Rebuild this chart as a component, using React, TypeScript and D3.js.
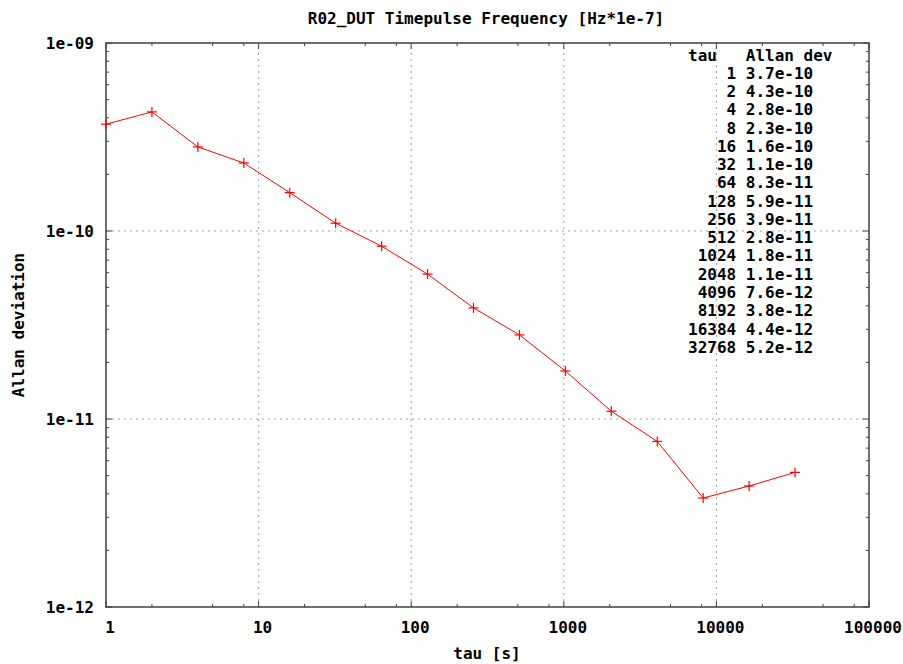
import React from "react";
import * as d3 from "d3";

const taus = [1, 2, 4, 8, 16, 32, 64, 128, 256, 512, 1024, 2048, 4096, 8192, 16384, 32768];
const adev = [3.7e-10, 4.3e-10, 2.8e-10, 2.3e-10, 1.6e-10, 1.1e-10, 8.3e-11, 5.9e-11, 3.9e-11, 2.8e-11, 1.8e-11, 1.1e-11, 7.6e-12, 3.8e-12, 4.4e-12, 5.2e-12];
const xTickValues = [1, 10, 100, 1000, 10000, 100000];
const xTickLabels = ["1", "10", "100", "1000", "10000", "100000"];
const yTickValues = [1e-12, 1e-11, 1e-10, 1e-9];
const yTickLabels = ["1e-12", "1e-11", "1e-10", "1e-09"];
const xMinorFactors = [2, 5, 8];
const yMinorFactors = [2, 3, 4, 5, 6, 7, 8, 9];

const W = 903, H = 664;
const L = 106, R = 869, T = 43, B = 607;
const FONT = "'DejaVu Sans Mono', 'Liberation Mono', monospace";

function fmtE(v: number) {
  const s = v.toExponential(1);
  const [m, e] = s.split("e");
  const neg = e[0] === "-";
  const digits = e.replace(/[-+]/, "").padStart(2, "0");
  return `${m}e${neg ? "-" : ""}${digits}`;
}

export default function App() {
  const x = d3.scaleLog().domain([1, 100000]).range([L, R]);
  const y = d3.scaleLog().domain([1e-12, 1e-9]).range([B, T]);
  const line = d3.line<number>().x((_, i) => x(taus[i])).y((d) => y(d));

  const xMinor: number[] = [];
  for (let d = 1; d < 100000; d *= 10) xMinorFactors.forEach((f) => xMinor.push(d * f));
  const yMinor: number[] = [];
  for (let d = 1e-12; d < 0.99e-9; d *= 10) yMinorFactors.forEach((f) => yMinor.push(d * f));

  const axisColor = "#404040";
  const textStyle: React.CSSProperties = { fontFamily: FONT, fontWeight: "bold", fontSize: 16 };
  const keyX = 688;
  const keyY0 = 55;
  const keyDy = 18.27;

  return (
    <svg width={W} height={H} style={{ position: "absolute", left: 0, top: 0, background: "#fff" }}>
      <rect x={0} y={0} width={W} height={H} fill="#fff" />
      {xTickValues.slice(1, -1).map((v) => (
        <line key={"gx" + v} x1={x(v)} x2={x(v)} y1={B} y2={T} stroke="#a0a0a0" strokeWidth={1} strokeDasharray="2,4" />
      ))}
      {yTickValues.slice(1, -1).map((v) => (
        <line key={"gy" + v} x1={L} x2={R} y1={y(v)} y2={y(v)} stroke="#a0a0a0" strokeWidth={1} strokeDasharray="2,4" />
      ))}
      {xTickValues.map((v) => (
        <g key={"xt" + v}>
          <line x1={x(v)} x2={x(v)} y1={B} y2={B - 6} stroke={axisColor} strokeWidth={1} />
          <line x1={x(v)} x2={x(v)} y1={T} y2={T + 6} stroke={axisColor} strokeWidth={1} />
        </g>
      ))}
      {xMinor.map((v) => (
        <g key={"xm" + v}>
          <line x1={x(v)} x2={x(v)} y1={B} y2={B - 3} stroke={axisColor} strokeWidth={1} />
          <line x1={x(v)} x2={x(v)} y1={T} y2={T + 3} stroke={axisColor} strokeWidth={1} />
        </g>
      ))}
      {yTickValues.map((v) => (
        <g key={"yt" + v}>
          <line x1={L} x2={L + 6} y1={y(v)} y2={y(v)} stroke={axisColor} strokeWidth={1} />
          <line x1={R} x2={R - 6} y1={y(v)} y2={y(v)} stroke={axisColor} strokeWidth={1} />
        </g>
      ))}
      {yMinor.map((v) => (
        <g key={"ym" + v}>
          <line x1={L} x2={L + 3} y1={y(v)} y2={y(v)} stroke={axisColor} strokeWidth={1} />
          <line x1={R} x2={R - 3} y1={y(v)} y2={y(v)} stroke={axisColor} strokeWidth={1} />
        </g>
      ))}
      <rect x={L} y={T} width={R - L} height={B - T} fill="none" stroke={axisColor} strokeWidth={1.5} />
      {xTickValues.map((v, i) => (
        <text key={"xl" + v} x={x(v) + 4} y={627} textAnchor="middle" dominantBaseline="central" style={textStyle}>
          {xTickLabels[i]}
        </text>
      ))}
      {yTickValues.map((v, i) => (
        <text key={"yl" + v} x={94} y={y(v)} textAnchor="end" dominantBaseline="central" style={textStyle}>
          {yTickLabels[i]}
        </text>
      ))}
      <text x={keyX} y={keyY0} dominantBaseline="central" style={{ ...textStyle, whiteSpace: "pre" }} xmlSpace="preserve">
        {"tau   Allan dev"}
      </text>
      {taus.map((t, i) => (
        <text key={"k" + t} x={keyX} y={keyY0 + keyDy * (i + 1)} dominantBaseline="central" style={{ ...textStyle, whiteSpace: "pre" }} xmlSpace="preserve">
          {String(t).padStart(5, " ") + " " + fmtE(adev[i])}
        </text>
      ))}
      <path d={line(adev) || ""} fill="none" stroke="#ff0000" strokeWidth={1} />
      {adev.map((v, i) => {
        const cx = x(taus[i]);
        const cy = y(v);
        return (
          <g key={"p" + i} stroke="#ff0000" strokeWidth={1.2}>
            <line x1={cx - 5} x2={cx + 5} y1={cy} y2={cy} />
            <line x1={cx} x2={cx} y1={cy - 5} y2={cy + 5} />
          </g>
        );
      })}
      <text x={486} y={18} textAnchor="middle" dominantBaseline="central" style={textStyle}>
        R02_DUT Timepulse Frequency [Hz*1e-7]
      </text>
      <text x={487} y={653} textAnchor="middle" dominantBaseline="central" style={textStyle}>
        tau [s]
      </text>
      <text x={18} y={325} textAnchor="middle" dominantBaseline="central" transform="rotate(-90 18 325)" style={textStyle}>
        Allan deviation
      </text>
    </svg>
  );
}
